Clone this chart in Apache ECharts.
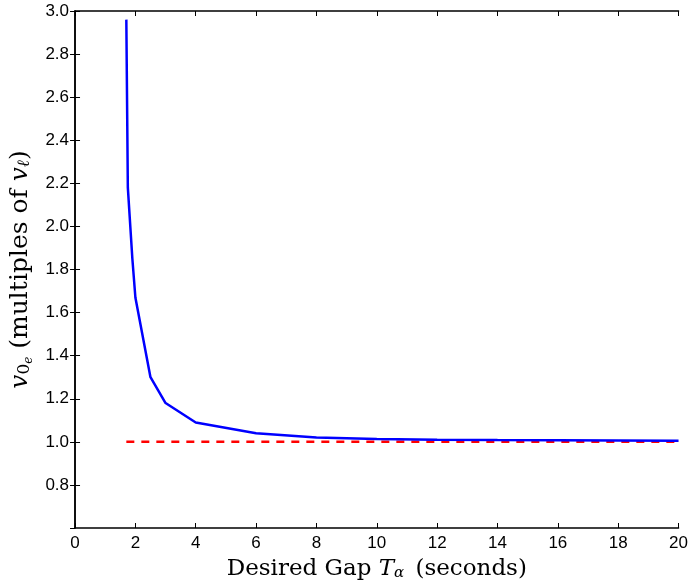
<!DOCTYPE html>
<html><head><meta charset="utf-8">
<script src="https://cdn.jsdelivr.net/npm/echarts@6/dist/echarts.min.js"></script>
<style>html,body{margin:0;padding:0;background:#fff}#c{width:691px;height:587px}</style>
</head><body><div id="c"></div>
<script>
const gapX = [1.7, 1.75, 1.9, 2.0, 2.5, 3, 4, 6, 8, 10, 12, 14, 16, 18, 20];
const v0e = [2.96, 2.18, 1.85, 1.67, 1.30, 1.18, 1.09, 1.04, 1.02, 1.013, 1.01, 1.008, 1.007, 1.006, 1.005];
const refX = [1.7, 20];
const refY = [1.0, 1.0];
const xTicks = [0, 2, 4, 6, 8, 10, 12, 14, 16, 18, 20];
const yTicks = [0.8, 1.0, 1.2, 1.4, 1.6, 1.8, 2.0, 2.2, 2.4, 2.6, 2.8, 3.0];

const chart = echarts.init(document.getElementById('c'));
const lab = {color:'#000', fontFamily:'Liberation Sans, Arial', fontSize:17};
const axLine = {lineStyle:{color:'#000', width:1.5}};
const tick = {inside:true, length:5, lineStyle:{color:'#000', width:1}};
const serif = 'DejaVu Serif, Liberation Serif, serif';
chart.setOption({
  animation:false,
  grid:{left:73, right:10, top:11, bottom:59},
  xAxis:[{
    type:'value', min:0, max:20, interval:2,
    axisLine:axLine, axisTick:tick, splitLine:{show:false},
    axisLabel:Object.assign({margin:7, formatter:v=>xTicks.includes(v)?String(v):''}, lab),
    name:'{r|Desired Gap }{i|T}{s|α}{r| (seconds)}',
    nameLocation:'middle', nameGap:30,
    nameTextStyle:{rich:{
      r:{fontFamily:serif, fontSize:23, color:'#000'},
      i:{fontFamily:serif, fontStyle:'italic', fontSize:23, color:'#000'},
      s:{fontFamily:serif, fontStyle:'italic', fontSize:15, color:'#000', padding:[8,4,0,0]}
    }}
  },{
    type:'value', min:0, max:20, interval:2, position:'top',
    axisLine:axLine, axisTick:tick, axisLabel:{show:false}, splitLine:{show:false}
  }],
  yAxis:[{
    type:'value', min:0.6, max:3.0, interval:0.2,
    axisLine:axLine, axisTick:tick, splitLine:{show:false},
    axisLabel:Object.assign({margin:6, showMinLabel:false, formatter:v=>yTicks.some(t=>Math.abs(t-v)<1e-6)?v.toFixed(1):''}, lab),
    name:'{i|v}{s|0}{ss|e}{r| (multiples of }{i|v}{s2|ℓ}{r|)}',
    nameLocation:'middle', nameGap:36, nameRotate:90,
    nameTextStyle:{rich:{
      r:{fontFamily:serif, fontSize:25, color:'#000'},
      i:{fontFamily:serif, fontStyle:'italic', fontSize:25, color:'#000'},
      s:{fontFamily:serif, fontSize:17, color:'#000', padding:[9,0,0,0]},
      ss:{fontFamily:serif, fontStyle:'italic', fontSize:12, color:'#000', padding:[16,0,0,0]},
      s2:{fontFamily:serif, fontStyle:'italic', fontSize:17, color:'#000', padding:[9,0,0,0]}
    }}
  },{
    type:'value', min:0.6, max:3.0, interval:0.2, position:'right',
    axisLine:axLine, axisTick:tick, axisLabel:{show:false}, splitLine:{show:false}
  }],
  series:[
    {type:'line', data:refX.map((x,i)=>[x, refY[i]]), symbol:'none',
     lineStyle:{color:'#ff0000', width:2.5, type:[8,7]}},
    {type:'line', data:gapX.map((x,i)=>[x, v0e[i]]), symbol:'none',
     lineStyle:{color:'#0000ff', width:2.5}}
  ]
});
</script></body></html>
